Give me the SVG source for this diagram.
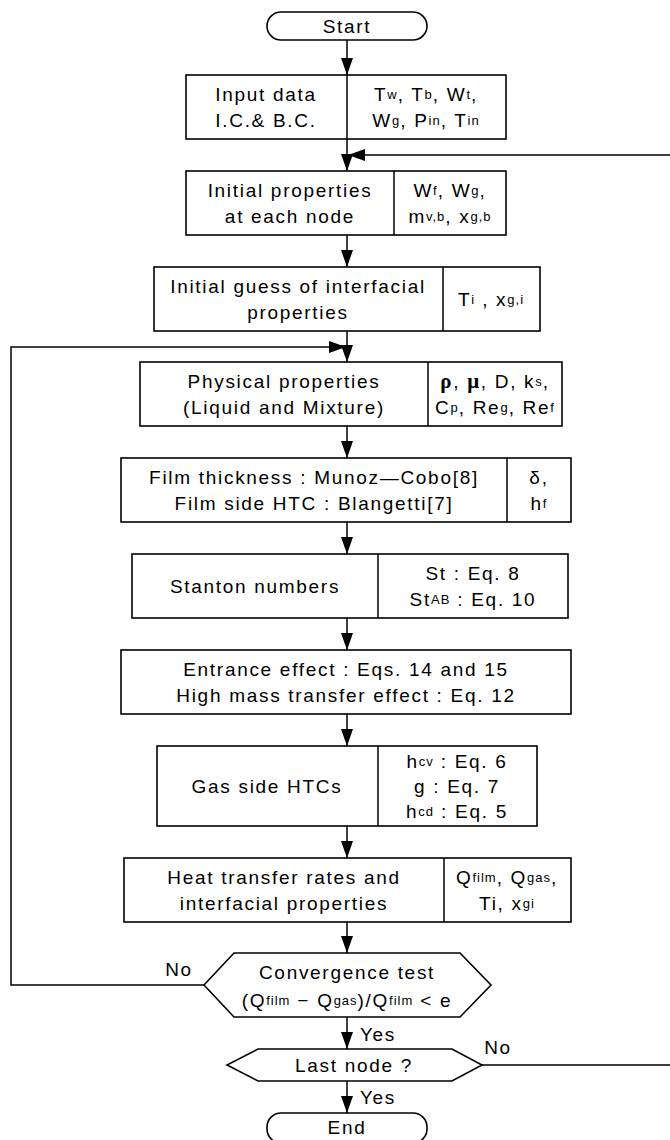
<svg xmlns="http://www.w3.org/2000/svg" width="670" height="1140" viewBox="0 0 670 1140">
<defs>
<style>
.box{fill:#fff;stroke:#000;stroke-width:1.6}
.ln{fill:none;stroke:#000;stroke-width:1.5}
text{font-family:"Liberation Sans",Arial,sans-serif;font-size:19px;letter-spacing:1.7px;fill:#000;text-anchor:middle;dominant-baseline:central}
.s{font-size:13px;letter-spacing:1px}
.g{font-family:"Liberation Serif","Times New Roman",serif;font-weight:bold;font-size:21px}
</style>
<marker id="ah" markerUnits="userSpaceOnUse" markerWidth="17" markerHeight="12" viewBox="0 0 17 12" refX="17" refY="6" orient="auto">
<path d="M0,0 L17,6 L0,12 z" fill="#000"/>
</marker>
</defs>
<rect width="670" height="1140" fill="#fff"/>

<g id="connectors">
<line class="ln" x1="347" y1="40" x2="347" y2="75" marker-end="url(#ah)"/>
<line class="ln" x1="347" y1="139" x2="347" y2="171" marker-end="url(#ah)"/>
<line class="ln" x1="670" y1="155" x2="348" y2="155" marker-end="url(#ah)"/>
<line class="ln" x1="347" y1="235" x2="347" y2="267" marker-end="url(#ah)"/>
<line class="ln" x1="347" y1="331" x2="347" y2="362" marker-end="url(#ah)"/>
<polyline class="ln" points="204,985 11,985 11,347 346,347" marker-end="url(#ah)"/>
<line class="ln" x1="347" y1="426" x2="347" y2="458" marker-end="url(#ah)"/>
<line class="ln" x1="347" y1="522" x2="347" y2="554" marker-end="url(#ah)"/>
<line class="ln" x1="347" y1="618" x2="347" y2="650" marker-end="url(#ah)"/>
<line class="ln" x1="347" y1="714" x2="347" y2="746" marker-end="url(#ah)"/>
<line class="ln" x1="347" y1="826" x2="347" y2="858" marker-end="url(#ah)"/>
<line class="ln" x1="347" y1="922" x2="347" y2="953" marker-end="url(#ah)"/>
<line class="ln" x1="347" y1="1017" x2="347" y2="1049" marker-end="url(#ah)"/>
<line class="ln" x1="347" y1="1081" x2="347" y2="1113" marker-end="url(#ah)"/>
<line class="ln" x1="482" y1="1065" x2="670" y2="1065"/>
<text x="179" y="969">No</text>
<text x="498" y="1047">No</text>
<text x="378" y="1034">Yes</text>
<text x="378" y="1097">Yes</text>
</g>

<g id="start">
<rect class="box" x="267" y="12" width="160" height="28" rx="14"/>
<text x="347" y="26">Start</text>
</g>

<g id="input">
<rect class="box" x="186" y="75" width="320" height="64"/>
<line class="ln" x1="347" y1="75" x2="347" y2="139"/>
<text x="266" y="94">Input data</text>
<text x="266" y="120">I.C.&amp; B.C.</text>
<text x="426" y="94">T<tspan class="s">w</tspan>, T<tspan class="s">b</tspan>, W<tspan class="s">t</tspan>,</text>
<text x="426" y="120">W<tspan class="s">g</tspan>, P<tspan class="s">in</tspan>, T<tspan class="s">in</tspan></text>
</g>

<g id="initial-properties">
<rect class="box" x="186" y="171" width="320" height="64"/>
<line class="ln" x1="394" y1="171" x2="394" y2="235"/>
<text x="290" y="190">Initial properties</text>
<text x="290" y="216">at each node</text>
<text x="450" y="190">W<tspan class="s">f</tspan>, W<tspan class="s">g</tspan>,</text>
<text x="450" y="216">m<tspan class="s">v,b</tspan>, x<tspan class="s">g,b</tspan></text>
</g>

<g id="initial-guess">
<rect class="box" x="154" y="267" width="386" height="64"/>
<line class="ln" x1="443" y1="267" x2="443" y2="331"/>
<text x="298" y="286">Initial guess of interfacial</text>
<text x="298" y="312">properties</text>
<text x="491" y="299">T<tspan class="s">i</tspan> , x<tspan class="s">g,i</tspan></text>
</g>

<g id="physical-properties">
<rect class="box" x="140" y="362" width="422" height="64"/>
<line class="ln" x1="428" y1="362" x2="428" y2="426"/>
<text x="284" y="381">Physical properties</text>
<text x="284" y="407">(Liquid and Mixture)</text>
<text x="495" y="381"><tspan class="g">ρ</tspan>, <tspan class="g">μ</tspan>, D, k<tspan class="s">s</tspan>,</text>
<text x="495" y="407">C<tspan class="s">p</tspan>, Re<tspan class="s">g</tspan>, Re<tspan class="s">f</tspan></text>
</g>

<g id="film">
<rect class="box" x="121" y="458" width="450" height="64"/>
<line class="ln" x1="507" y1="458" x2="507" y2="522"/>
<text x="314" y="477">Film thickness : Munoz—Cobo[8]</text>
<text x="314" y="503">Film side HTC : Blangetti[7]</text>
<text x="539" y="477">δ,</text>
<text x="539" y="503">h<tspan class="s">f</tspan></text>
</g>

<g id="stanton">
<rect class="box" x="132" y="554" width="436" height="64"/>
<line class="ln" x1="378" y1="554" x2="378" y2="618"/>
<text x="255" y="586">Stanton numbers</text>
<text x="473" y="573">St : Eq. 8</text>
<text x="473" y="599">St<tspan class="s">AB</tspan> : Eq. 10</text>
</g>

<g id="entrance">
<rect class="box" x="121" y="650" width="450" height="64"/>
<text x="346" y="669">Entrance effect : Eqs. 14 and 15</text>
<text x="346" y="695">High mass transfer effect : Eq. 12</text>
</g>

<g id="gas-side">
<rect class="box" x="157" y="746" width="380" height="80"/>
<line class="ln" x1="378" y1="746" x2="378" y2="826"/>
<text x="267" y="786">Gas side HTCs</text>
<text x="457" y="761">h<tspan class="s">cv</tspan> : Eq. 6</text>
<text x="457" y="786">g : Eq. 7</text>
<text x="457" y="811">h<tspan class="s">cd</tspan> : Eq. 5</text>
</g>

<g id="heat-transfer">
<rect class="box" x="124" y="858" width="447" height="64"/>
<line class="ln" x1="444" y1="858" x2="444" y2="922"/>
<text x="284" y="877">Heat transfer rates and</text>
<text x="284" y="903">interfacial properties</text>
<text x="507" y="877">Q<tspan class="s">film</tspan>, Q<tspan class="s">gas</tspan>,</text>
<text x="507" y="903">Ti, x<tspan class="s">gi</tspan></text>
</g>

<g id="convergence">
<polygon class="box" points="234,953 460,953 491,985 460,1017 234,1017 204,985"/>
<text x="347" y="972">Convergence test</text>
<text x="347" y="1000">(Q<tspan class="s">film</tspan> − Q<tspan class="s">gas</tspan>)/Q<tspan class="s">film</tspan> &lt; e</text>
</g>

<g id="last-node">
<polygon class="box" points="258,1049 452,1049 482,1065 452,1081 258,1081 227,1065"/>
<text x="354" y="1065">Last node ?</text>
</g>

<g id="end">
<rect class="box" x="267" y="1113" width="160" height="30" rx="14"/>
<text x="347" y="1127">End</text>
</g>
</svg>
